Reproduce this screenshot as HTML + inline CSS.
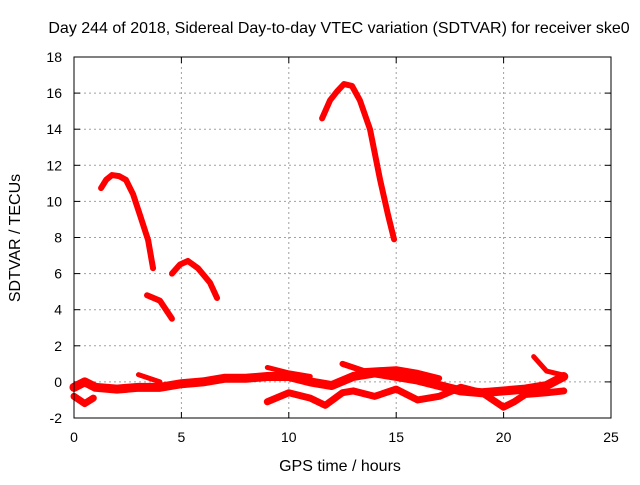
<!DOCTYPE html>
<html><head><meta charset="utf-8"><style>
body{margin:0;background:#fff}
svg text{font-family:"Liberation Sans",sans-serif;font-size:14px;fill:#000}
svg text.big{font-size:16px}
</style></head><body>
<svg id="chart" width="640" height="480">
<text class="big" x="339" y="33" text-anchor="middle">Day 244 of 2018, Sidereal Day-to-day VTEC variation (SDTVAR) for receiver ske0</text>
<text class="big" x="340" y="471" text-anchor="middle">GPS time / hours</text>
<text class="big" transform="translate(20,238) rotate(-90)" text-anchor="middle">SDTVAR / TECUs</text>
<g id="grid"></g><g id="series"></g>
<rect x="74" y="57" width="537" height="361" fill="none" stroke="#000" stroke-width="1"/>
</svg>
<script>
const xTicks=[0,5,10,15,20,25];
const yTicks=[-2,0,2,4,6,8,10,12,14,16,18];
const arc1X=[1.26,1.5,1.77,2.1,2.42,2.75,3.07,3.45,3.68];
const arc1Y=[10.74,11.2,11.46,11.4,11.19,10.4,9.25,7.86,6.3];
const arc2X=[3.4,4.0,4.56];
const arc2Y=[4.8,4.5,3.5];
const arc3X=[4.56,4.93,5.3,5.77,6.33,6.66];
const arc3Y=[6.0,6.5,6.7,6.3,5.5,4.65];
const arc4X=[11.55,11.92,12.25,12.57,12.94,13.31,13.78,14.25,14.62,14.9];
const arc4Y=[14.6,15.6,16.1,16.5,16.4,15.6,14.0,11.2,9.25,7.9];
const mainX=[0,0.5,1,2,3,4,5,6,7,8,9,10,11,12,13,14,15,16,17,18,19,20,21,22,22.8];
const mainY=[-0.3,0,-0.3,-0.4,-0.3,-0.3,-0.1,0,0.2,0.2,0.3,0.3,0,-0.2,0.3,0.5,0.3,0.1,-0.2,-0.5,-0.6,-0.5,-0.4,-0.2,0.3];
const lowAX=[0,0.5,0.9];
const lowAY=[-0.8,-1.2,-0.9];
const lowBX=[9,10,11,11.7,12.5,13,14,15,16,17,18,19,20,20.5,21,22,22.8];
const lowBY=[-1.1,-0.6,-0.9,-1.3,-0.6,-0.5,-0.8,-0.4,-1.0,-0.8,-0.3,-0.6,-1.4,-1.1,-0.7,-0.6,-0.5];
const upAX=[3,4];
const upAY=[0.4,0];
const upBX=[9,10,11];
const upBY=[0.8,0.5,0.3];
const upCX=[12.5,13.5,15,16,17];
const upCY=[1.0,0.6,0.7,0.5,0.2];
const upDX=[21.4,22,22.7];
const upDY=[1.4,0.6,0.4];
const X=h=>74+h*537/25;
const Y=v=>418-(v+2)*361/20;
const NS="http://www.w3.org/2000/svg";
const grid=document.getElementById('grid'),ser=document.getElementById('series');
function mk(t,a,p){const e=document.createElementNS(NS,t);for(const k in a)e.setAttribute(k,a[k]);p.appendChild(e);return e;}
xTicks.forEach(t=>{
 if(t>0&&t<25){const l=mk('line',{x1:X(t),x2:X(t),y1:57,y2:418,stroke:'#a0a0a0','stroke-dasharray':'2,3'},grid);
 
 }
 mk('line',{x1:X(t),x2:X(t),y1:418,y2:412,stroke:'#000'},grid);
 mk('line',{x1:X(t),x2:X(t),y1:57,y2:63,stroke:'#000'},grid);
 const tx=mk('text',{x:X(t),y:442,'text-anchor':'middle'},grid);tx.textContent=t;
 
 
});
yTicks.forEach(t=>{
 if(t>-2&&t<18){const l=mk('line',{x1:74,x2:611,y1:Y(t),y2:Y(t),stroke:'#a0a0a0','stroke-dasharray':'2,3'},grid);
 
 }
 mk('line',{x1:74,x2:80,y1:Y(t),y2:Y(t),stroke:'#000'},grid);
 mk('line',{x1:605,x2:611,y1:Y(t),y2:Y(t),stroke:'#000'},grid);
 const tx=mk('text',{x:62,y:Y(t)+5,'text-anchor':'end'},grid);tx.textContent=t;
 
 
});
function draw(xs,ys,w,name){
 const p=mk('polyline',{points:xs.map((x,i)=>X(x)+','+Y(ys[i])).join(' '),fill:'none',stroke:'#ff0000','stroke-width':w,'stroke-linejoin':'round','stroke-linecap':'round'},ser);
 
 
}
draw(arc1X,arc1Y,6,'arc-1');
draw(arc2X,arc2Y,6,'arc-2');
draw(arc3X,arc3Y,6,'arc-3');
draw(arc4X,arc4Y,6,'arc-4');
draw(mainX,mainY,9,'band-main');
draw(lowAX,lowAY,7,'band-low-a');
draw(lowBX,lowBY,7,'band-low-b');
draw(upAX,upAY,5,'band-up-a');
draw(upBX,upBY,5,'band-up-b');
draw(upCX,upCY,6,'band-up-c');
draw(upDX,upDY,5,'band-up-d');
</script>
</body></html>
